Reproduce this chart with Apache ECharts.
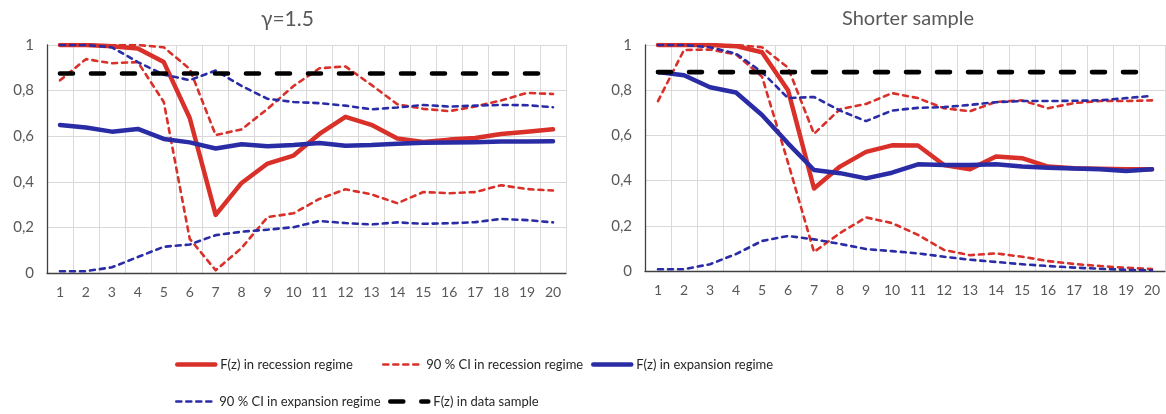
<!DOCTYPE html>
<html>
<head>
<meta charset="utf-8">
<script src="https://cdn.jsdelivr.net/npm/echarts@6/dist/echarts.min.js"></script>
<style>
  html, body { margin: 0; padding: 0; background: #fff; }
  #chart { width: 1166px; height: 414px; }
</style>
</head>
<body>
<div id="chart"></div>
<script>
// Horizons 1..20
const horizons = ['1','2','3','4','5','6','7','8','9','10','11','12','13','14','15','16','17','18','19','20'];
const yTicks = [0, 0.2, 0.4, 0.6, 0.8, 1];

// Panel 1: gamma = 1.5
const recLeft      = [1.00, 1.00, 0.995, 0.985, 0.925, 0.68, 0.255, 0.395, 0.48, 0.515, 0.61, 0.685, 0.65, 0.59, 0.575, 0.585, 0.592, 0.61, 0.62, 0.63];
const recHiLeft    = [1.00, 1.00, 1.00, 1.00, 0.99, 0.895, 0.605, 0.63, 0.72, 0.82, 0.898, 0.906, 0.825, 0.74, 0.72, 0.71, 0.73, 0.757, 0.79, 0.785];
const recLoLeft    = [0.845, 0.938, 0.92, 0.925, 0.75, 0.15, 0.012, 0.11, 0.245, 0.262, 0.325, 0.367, 0.345, 0.306, 0.355, 0.35, 0.355, 0.385, 0.368, 0.362];
const expLeft      = [0.649, 0.638, 0.62, 0.632, 0.588, 0.573, 0.546, 0.565, 0.556, 0.561, 0.57, 0.558, 0.561, 0.567, 0.571, 0.572, 0.574, 0.577, 0.577, 0.578];
const expHiLeft    = [1.00, 1.00, 0.99, 0.925, 0.87, 0.846, 0.888, 0.82, 0.764, 0.75, 0.745, 0.734, 0.718, 0.726, 0.737, 0.73, 0.734, 0.737, 0.736, 0.727];
const expLoLeft    = [0.008, 0.008, 0.025, 0.07, 0.115, 0.125, 0.166, 0.181, 0.19, 0.201, 0.228, 0.219, 0.213, 0.222, 0.216, 0.218, 0.223, 0.237, 0.232, 0.222];
const sampleLeft   = [0.875, 0.875, 0.875, 0.875, 0.875, 0.875, 0.875, 0.875, 0.875, 0.875, 0.875, 0.875, 0.875, 0.875, 0.875, 0.875, 0.875, 0.875, 0.875, 0.875];

// Panel 2: shorter sample
const recRight     = [1.00, 1.00, 1.00, 0.995, 0.968, 0.80, 0.365, 0.462, 0.527, 0.556, 0.555, 0.469, 0.45, 0.507, 0.499, 0.462, 0.455, 0.452, 0.45, 0.45];
const recHiRight   = [1.00, 1.00, 1.00, 1.00, 0.99, 0.90, 0.607, 0.716, 0.739, 0.787, 0.765, 0.72, 0.707, 0.748, 0.755, 0.72, 0.743, 0.752, 0.752, 0.755];
const recLoRight   = [0.752, 0.978, 0.98, 0.958, 0.86, 0.48, 0.084, 0.168, 0.237, 0.212, 0.16, 0.093, 0.07, 0.078, 0.063, 0.044, 0.031, 0.022, 0.014, 0.009];
const expRight     = [0.88, 0.866, 0.813, 0.79, 0.69, 0.565, 0.447, 0.433, 0.41, 0.435, 0.472, 0.469, 0.469, 0.472, 0.462, 0.457, 0.454, 0.45, 0.443, 0.45];
const expHiRight   = [1.00, 1.00, 0.99, 0.962, 0.88, 0.765, 0.77, 0.71, 0.663, 0.71, 0.722, 0.725, 0.735, 0.747, 0.752, 0.752, 0.753, 0.755, 0.765, 0.775];
const expLoRight   = [0.008, 0.008, 0.03, 0.075, 0.133, 0.155, 0.14, 0.12, 0.097, 0.088, 0.078, 0.063, 0.05, 0.04, 0.03, 0.022, 0.015, 0.01, 0.005, 0.003];
const sampleRight  = [0.88, 0.88, 0.88, 0.88, 0.88, 0.88, 0.88, 0.88, 0.88, 0.88, 0.88, 0.88, 0.88, 0.88, 0.88, 0.88, 0.88, 0.88, 0.88, 0.88];

const panelTitles = ['γ=1.5', 'Shorter sample'];
const names = {
  rec: 'F(z) in recession regime',
  recCI: '90 % CI in recession regime',
  exp: 'F(z) in expansion regime',
  expCI: '90 % CI in expansion regime',
  sample: 'F(z) in data sample'
};

const RED = '#d9302a';
const BLUE = '#2a2ca6';
const FONT = 'Lato, "Noto Sans", sans-serif';
const GRAY = '#595959';

const styles = {
  rec:    { color: RED,  width: 4.5, type: 'solid', cap: 'round' },
  recCI:  { color: RED,  width: 2.6, type: [5, 5], cap: 'round' },
  exp:    { color: BLUE, width: 4.5, type: 'solid', cap: 'round' },
  expCI:  { color: BLUE, width: 2.6, type: [5, 5], cap: 'round' },
  sample: { color: '#000', width: 4.6, type: [13, 18], cap: 'round' }
};

function lineSeries(key, data, idx) {
  const s = styles[key];
  return {
    name: names[key],
    type: 'line',
    xAxisIndex: idx,
    yAxisIndex: idx,
    data: data,
    symbol: 'none',
    color: s.color,
    lineStyle: { color: s.color, width: s.width, type: s.type, cap: s.cap, join: 'round' },
    emphasis: { disabled: true },
    animation: false
  };
}

function xAxis(idx) {
  return {
    type: 'category',
    gridIndex: idx,
    data: horizons,
    boundaryGap: true,
    axisLine: { lineStyle: { color: '#404040', width: 1.3 } },
    axisTick: { show: false },
    axisLabel: { color: GRAY, fontSize: 14, fontFamily: FONT, margin: 12, interval: 0 },
    splitLine: { show: true, interval: 0, lineStyle: { color: '#d9d9d9', width: 1 } }
  };
}

function yAxis(idx) {
  return {
    type: 'value',
    gridIndex: idx,
    min: yTicks[0],
    max: yTicks[yTicks.length - 1],
    interval: 0.2,
    axisLine: { show: true, lineStyle: { color: '#404040', width: 1.3 } },
    axisTick: { show: false },
    axisLabel: {
      color: GRAY, fontSize: 15, fontFamily: FONT, margin: 13,
      formatter: v => String(+v.toFixed(1)).replace('.', ',')
    },
    splitLine: { lineStyle: { color: '#d9d9d9', width: 1 } }
  };
}

// one legend entry per component, laid out in two rows of fixed columns;
// keys show only the line stroke at full series width
function legendEntry(name, left, top) {
  return {
    data: [name], left: left, top: top, padding: 0,
    itemWidth: 38, itemHeight: 14,
    itemStyle: { opacity: 0 },
    lineStyle: { width: 'inherit' },
    textStyle: { color: '#262626', fontSize: 13, fontFamily: FONT },
    selectedMode: false
  };
}

const option = {
  animation: false,
  title: [
    { text: panelTitles[0], left: 256, top: 4, textStyle: { color: GRAY, fontSize: 21, fontWeight: 'normal', fontFamily: FONT } },
    { text: panelTitles[1], left: 837, top: 4, textStyle: { color: GRAY, fontSize: 20, fontWeight: 'normal', fontFamily: FONT } }
  ],
  grid: [
    { left: 47, top: 45, width: 519, height: 228 },
    { left: 645, top: 45, width: 520, height: 226 }
  ],
  xAxis: [xAxis(0), xAxis(1)],
  yAxis: [yAxis(0), yAxis(1)],
  legend: [
    legendEntry(names.rec, 175, 358),
    legendEntry(names.recCI, 382, 358),
    legendEntry(names.exp, 591, 358),
    legendEntry(names.expCI, 175, 395),
    legendEntry(names.sample, 388, 395)
  ],
  series: [
    lineSeries('rec', recLeft, 0),
    lineSeries('recCI', recHiLeft, 0),
    lineSeries('recCI', recLoLeft, 0),
    lineSeries('exp', expLeft, 0),
    lineSeries('expCI', expHiLeft, 0),
    lineSeries('expCI', expLoLeft, 0),
    lineSeries('sample', sampleLeft, 0),
    lineSeries('rec', recRight, 1),
    lineSeries('recCI', recHiRight, 1),
    lineSeries('recCI', recLoRight, 1),
    lineSeries('exp', expRight, 1),
    lineSeries('expCI', expHiRight, 1),
    lineSeries('expCI', expLoRight, 1),
    lineSeries('sample', sampleRight, 1)
  ]
};

const chart = echarts.init(document.getElementById('chart'), null, { renderer: 'canvas' });
chart.setOption(option);
</script>
</body>
</html>
